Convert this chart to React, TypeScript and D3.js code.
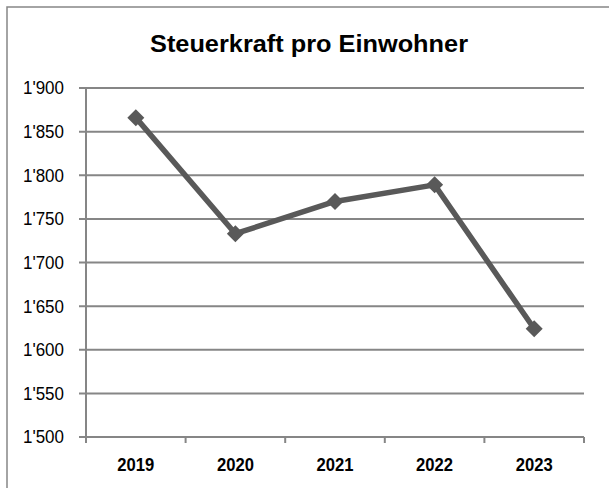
import React from "react";
import * as d3 from "d3";

const years = ["2019", "2020", "2021", "2022", "2023"];
const values = [1866, 1733, 1770, 1789, 1624];
const yTicks = [1500, 1550, 1600, 1650, 1700, 1750, 1800, 1850, 1900];
const title = "Steuerkraft pro Einwohner";

const W = 609;
const H = 488;
const margin = { left: 86, right: 25, top: 88, bottom: 51 };
const GRID = "#868686";
const LINE = "#595959";
const FONT = "'Liberation Sans', Arial, sans-serif";

const fmt = (v: number) => {
  const s = String(v);
  return s.length > 3 ? s.slice(0, s.length - 3) + "'" + s.slice(-3) : s;
};

export default function App() {
  const x = d3
    .scaleBand<string>()
    .domain(years)
    .range([margin.left, W - margin.right]);
  const y = d3
    .scaleLinear()
    .domain([1500, 1900])
    .range([H - margin.bottom, margin.top]);
  const line = d3
    .line<number>()
    .x((_, i) => (x(years[i]) as number) + x.bandwidth() / 2)
    .y((d) => y(d));
  const x0 = margin.left;
  const x1 = W - margin.right;
  const yb = y(1500);
  const boundaries = [...years.map((yr) => x(yr) as number), x1];
  const m = 8.5;

  return (
    <svg
      width={W}
      height={H}
      style={{ position: "absolute", left: 0, top: 0, background: "#fff" }}
    >
      <rect x={7} y={7} width={640} height={520} fill="#fff" stroke={GRID} strokeWidth={1.5} />
      <text
        x={309}
        y={52}
        textAnchor="middle"
        fontFamily={FONT}
        fontWeight="bold"
        fontSize={23}
        textLength={318}
        lengthAdjust="spacingAndGlyphs"
        fill="#000"
      >
        {title}
      </text>
      {yTicks.map((t) => (
        <g key={t}>
          <line x1={x0 - 7} x2={x1} y1={y(t)} y2={y(t)} stroke={GRID} strokeWidth={2} />
          <text
            x={64}
            y={y(t)}
            dy="0.36em"
            textAnchor="end"
            fontFamily={FONT}
            fontSize={18}
            textLength={41}
            lengthAdjust="spacingAndGlyphs"
            fill="#000"
          >
            {fmt(t)}
          </text>
        </g>
      ))}
      <line x1={x0} x2={x0} y1={margin.top} y2={yb + 6} stroke={GRID} strokeWidth={2} />
      {boundaries.map((b, i) => (
        <line key={i} x1={b} x2={b} y1={yb} y2={yb + 6} stroke={GRID} strokeWidth={2} />
      ))}
      {years.map((yr) => (
        <text
          key={yr}
          x={(x(yr) as number) + x.bandwidth() / 2}
          y={471}
          textAnchor="middle"
          fontFamily={FONT}
          fontWeight="bold"
          fontSize={19}
          textLength={37}
          lengthAdjust="spacingAndGlyphs"
          fill="#000"
        >
          {yr}
        </text>
      ))}
      <path d={line(values) || ""} fill="none" stroke={LINE} strokeWidth={5.5} strokeLinejoin="round" />
      {values.map((v, i) => {
        const cx = (x(years[i]) as number) + x.bandwidth() / 2;
        const cy = y(v);
        return (
          <path
            key={i}
            d={`M${cx},${cy - m}L${cx + m},${cy}L${cx},${cy + m}L${cx - m},${cy}Z`}
            fill={LINE}
          />
        );
      })}
    </svg>
  );
}
